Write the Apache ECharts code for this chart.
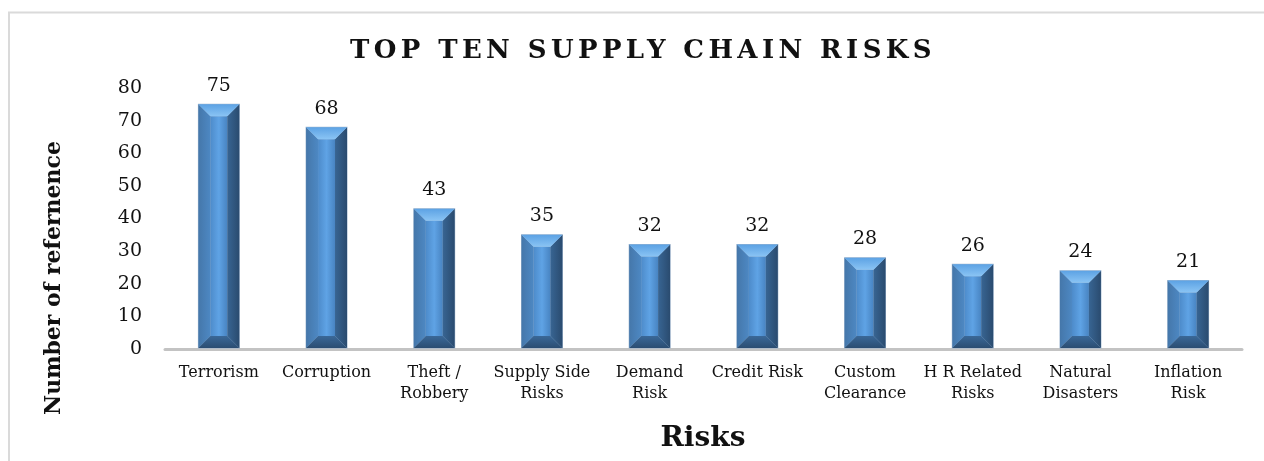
<!DOCTYPE html>
<html>
<head>
<meta charset="utf-8">
<script src="https://cdn.jsdelivr.net/npm/echarts@6/dist/echarts.min.js"></script>
<style>
  html, body { margin: 0; padding: 0; background: #fff; }
  #wrap { position: relative; width: 1264px; height: 461px; }
  #chart { width: 1264px; height: 461px; }
  #title {
    position: absolute; left: 0; width: 1286px; top: 33px;
    text-align: center; font-family: "DejaVu Serif", serif; font-weight: bold;
    font-size: 26px; letter-spacing: 4.4px; color: #111; line-height: 32px;
    pointer-events: none;
  }
</style>
</head>
<body>
<div id="wrap">
  <div id="chart"></div>
  <div id="title">TOP TEN SUPPLY CHAIN RISKS</div>
</div>
<script>
// Risk categories (x axis) and number of references per risk
const categories = [
  'Terrorism', 'Corruption', 'Theft /\nRobbery', 'Supply Side\nRisks', 'Demand\nRisk',
  'Credit Risk', 'Custom\nClearance', 'H R Related\nRisks', 'Natural\nDisasters', 'Inflation\nRisk'
];
const references = [75, 68, 43, 35, 32, 32, 28, 26, 24, 21];
const yTicks = { min: 0, max: 80, interval: 10 };

const FONT = '"DejaVu Serif", serif';

// Bevelled column: a front face framed by four slanted facets
function renderBevelBar(params, api) {
  const idx = api.value(0);
  const val = api.value(1);
  const top = api.coord([idx, val]);
  const base = api.coord([idx, 0]);
  const w = api.size([1, 0])[0] * 0.38;
  const l = top[0] - w / 2, r = top[0] + w / 2;
  const t = top[1], b = base[1] - 1;
  const d = Math.min(12, (b - t) / 2);
  const poly = (pts, fill) => ({ type: 'polygon', shape: { points: pts }, style: { fill: fill } });
  const vGrad = (c0, c1) => new echarts.graphic.LinearGradient(0, 0, 0, 1, [
    { offset: 0, color: c0 }, { offset: 1, color: c1 }
  ]);
  return {
    type: 'group',
    children: [
      // outline
      { type: 'rect', shape: { x: l - 0.5, y: t - 0.5, width: w + 1, height: b - t + 1 },
        style: { fill: '#9fb6cf' } },
      // front face
      { type: 'rect', shape: { x: l + d, y: t + d, width: w - 2 * d, height: b - t - 2 * d },
        style: { fill: new echarts.graphic.LinearGradient(0, 0, 1, 0, [
          { offset: 0, color: '#4d8bca' }, { offset: 0.5, color: '#5fa3e5' }, { offset: 1, color: '#4884c2' }
        ]) } },
      // left facet
      poly([[l, t], [l + d, t + d], [l + d, b - d], [l, b]], new echarts.graphic.LinearGradient(0, 0, 1, 0, [
        { offset: 0, color: '#4577aa' }, { offset: 1, color: '#4d88c3' }
      ])),
      // right facet
      poly([[r, t], [r, b], [r - d, b - d], [r - d, t + d]], new echarts.graphic.LinearGradient(0, 0, 1, 0, [
        { offset: 0, color: '#386593' }, { offset: 1, color: '#2a4b6f' }
      ])),
      // top facet
      poly([[l, t], [r, t], [r - d, t + d], [l + d, t + d]], vGrad('#5ca2e4', '#8ac4f4')),
      // bottom facet
      poly([[l, b], [r, b], [r - d, b - d], [l + d, b - d]], vGrad('#3a6898', '#2b4d72')),
      // value label
      { type: 'text', style: { text: String(val), x: top[0], y: t - 9, align: 'center',
        verticalAlign: 'bottom', font: '19px ' + FONT, fill: '#111' } }
    ]
  };
}

const chart = echarts.init(document.getElementById('chart'), null, { renderer: 'canvas' });
chart.setOption({
  animation: false,
  backgroundColor: '#fff',
  grid: { left: 165, right: 22, top: 88, bottom: 112, containLabel: false },
  xAxis: {
    type: 'category',
    data: categories,
    axisLine: { show: true, lineStyle: { color: '#c3c3c3', width: 3 } },
    axisTick: { show: false },
    axisLabel: { interval: 0, margin: 13, fontFamily: FONT, fontSize: 16, color: '#111', lineHeight: 21 }
  },
  yAxis: {
    type: 'value',
    min: yTicks.min, max: yTicks.max, interval: yTicks.interval,
    axisLine: { show: false },
    axisTick: { show: false },
    splitLine: { show: false },
    axisLabel: { margin: 23, fontFamily: FONT, fontSize: 19, color: '#111' }
  },
  graphic: [
    { type: 'rect', shape: { x: 9, y: 12.5, width: 1400, height: 600 },
      style: { fill: 'none', stroke: '#dadada', lineWidth: 2 }, silent: true, z: -10 },
    { type: 'text', x: 54, y: 278, rotation: Math.PI / 2,
      style: { text: 'Number of refernence', font: 'bold 22px ' + FONT, fill: '#111',
        align: 'center', verticalAlign: 'middle' } },
    { type: 'text', x: 703, y: 439,
      style: { text: 'Risks', font: 'bold 28px ' + FONT, fill: '#111',
        align: 'center', verticalAlign: 'middle' } }
  ],
  series: [{
    type: 'custom',
    renderItem: renderBevelBar,
    encode: { x: 0, y: 1 },
    data: references.map((v, i) => [i, v])
  }]
});
</script>
</body>
</html>
